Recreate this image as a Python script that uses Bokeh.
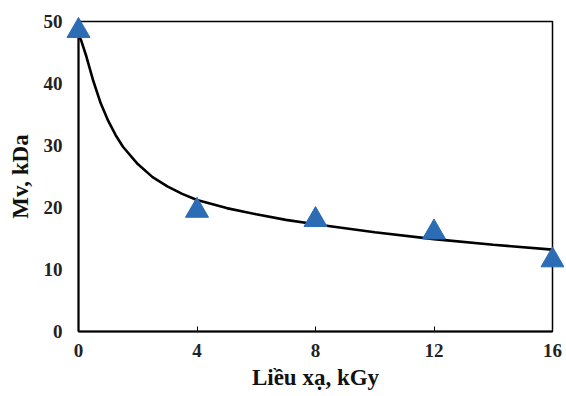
from bokeh.plotting import figure
from bokeh.models import Range1d, FixedTicker
from bokeh.embed import file_html
from bokeh.resources import INLINE

# Measured data (triangles)
dose = [0, 4, 8, 12, 16]
mv = [48.5, 19.5, 18.0, 16.0, 11.5]

# Trend curve
fit_x = [0, 0.1, 0.25, 0.5, 0.75, 1, 1.25, 1.5, 2, 2.5, 3, 3.5, 4, 5, 6, 7, 8, 10, 12, 14, 16]
fit_y = [48.0, 46.8, 44.6, 40.4, 36.8, 34.0, 31.7, 29.8, 27.0, 24.9, 23.4, 22.2, 21.2, 19.9, 18.9, 18.0, 17.3, 16.0, 14.9, 14.0, 13.2]

x_ticks = [0, 4, 8, 12, 16]
y_ticks = [0, 10, 20, 30, 40, 50]

FONT = "Liberation Serif"

p = figure(frame_width=474, frame_height=310, output_backend="svg", toolbar_location=None,
           x_range=Range1d(0, 16), y_range=Range1d(0, 50),
           min_border_left=78, min_border_top=21, min_border_right=12, min_border_bottom=0)
p.xgrid.visible = False
p.ygrid.visible = False
p.outline_line_color = "black"
p.outline_line_width = 1.5
p.background_fill_color = "white"
p.border_fill_color = "white"

p.line(fit_x, fit_y, line_color="black", line_width=2.6)
p.scatter(dose, mv, marker="triangle", size=23, fill_color="#2b6cb5", line_color="#2b6cb5", level="overlay")

p.xaxis.ticker = FixedTicker(ticks=x_ticks)
p.yaxis.ticker = FixedTicker(ticks=y_ticks)
for ax in (p.xaxis[0], p.yaxis[0]):
    ax.axis_line_color = "black"
    ax.axis_line_width = 2
    ax.major_label_text_font = FONT
    ax.major_label_text_font_style = "bold"
    ax.major_label_text_font_size = "19px"
    ax.major_label_text_color = "#222222"
    ax.axis_label_text_font = FONT
    ax.axis_label_text_font_style = "bold"
    ax.axis_label_text_font_size = "23px"
    ax.axis_label_text_color = "#111111"
    ax.minor_tick_line_color = None
    ax.major_tick_line_color = "black"
p.xaxis.major_tick_in = 5
p.xaxis.major_tick_out = 0
p.xaxis.major_label_standoff = 12
p.xaxis.axis_label = "Liều xạ, kGy"
p.xaxis.axis_label_standoff = 5
p.yaxis.major_tick_in = 0
p.yaxis.major_tick_out = 0
p.yaxis.major_label_standoff = 16
p.yaxis.axis_label = "Mv, kDa"
p.yaxis.axis_label_standoff = 8

open("out.html", "w").write(file_html(p, INLINE))
